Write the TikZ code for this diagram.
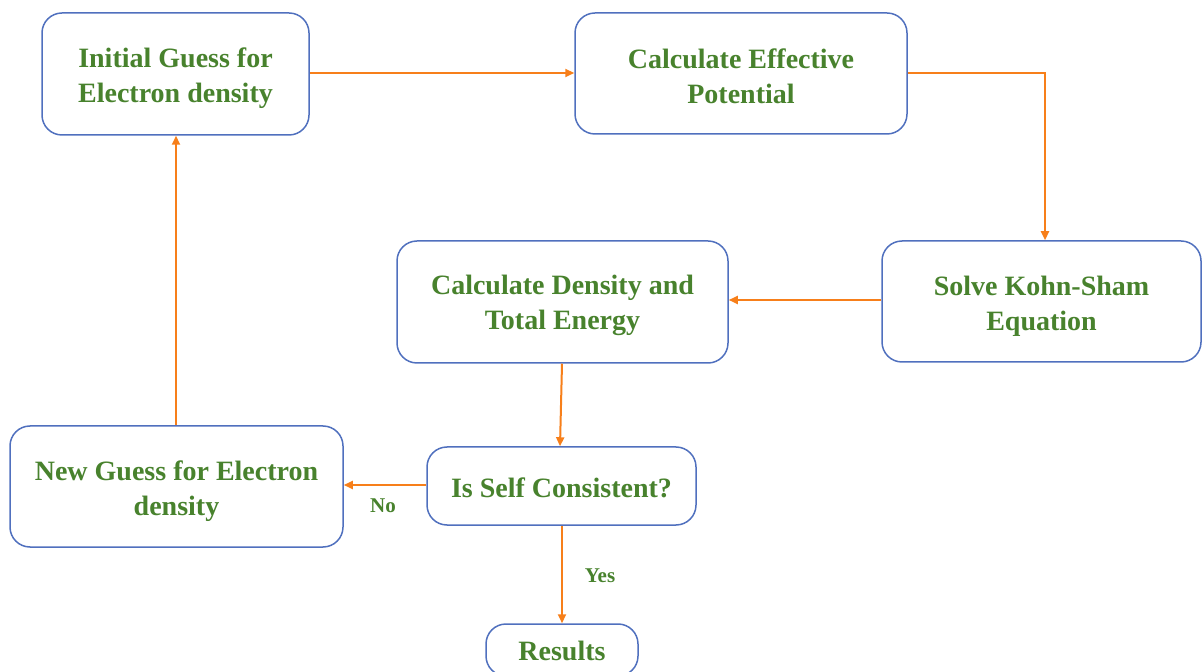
\documentclass[tikz,border=0pt]{standalone}
\usepackage{fontspec}
\setmainfont{Liberation Serif}
\usetikzlibrary{arrows.meta}
\definecolor{boxblue}{RGB}{80,112,190}
\definecolor{txtgreen}{RGB}{72,130,45}
\definecolor{arrorange}{RGB}{247,127,26}
\tikzset{
  flowbox/.style={draw=boxblue, line width=0.75pt, rounded corners=10pt, fill=white, inner sep=0pt},
  boxtext/.style={align=center, font=\fontsize{14}{17.5}\selectfont\bfseries, text=txtgreen, inner sep=0pt},
  flowarrow/.style={draw=arrorange, line width=1pt, -{Triangle[length=4.5pt,width=4pt]}},
  lbl/.style={font=\fontsize{10.5}{12}\selectfont\bfseries, text=txtgreen, inner sep=0pt}
}
\begin{document}
\begin{tikzpicture}[x=0.5pt,y=-0.5pt]
\useasboundingbox (0,0) rectangle (1202,672);
\node[flowbox, minimum width=133.5pt, minimum height=61pt,
  label={[boxtext, yshift=-2.3pt]center:{Initial Guess for\\Electron density}}] (init) at (175.5,74) {};
\node[flowbox, minimum width=166pt, minimum height=60.5pt,
  label={[boxtext, yshift=-1.2pt]center:{Calculate Effective\\Potential}}] (eff) at (741,73.5) {};
\node[flowbox, minimum width=159.5pt, minimum height=60.5pt,
  label={[boxtext, yshift=-2.3pt]center:{Solve Kohn-Sham\\Equation}}] (ks) at (1041.5,301.5) {};
\node[flowbox, minimum width=165.5pt, minimum height=61pt,
  label={[boxtext, yshift=-1.8pt]center:{Calculate Density and\\Total Energy}}] (dens) at (562.5,302) {};
\node[flowbox, minimum width=166.5pt, minimum height=60.5pt,
  label={[boxtext, yshift=-2.2pt]center:{New Guess for Electron\\density}}] (new) at (176.5,486.5) {};
\node[flowbox, minimum width=134.5pt, minimum height=39pt,
  label={[boxtext, yshift=-1pt]center:{Is Self Consistent?}}] (self) at (561.5,486) {};
\node[flowbox, minimum width=76pt, minimum height=26pt,
  label={[boxtext, yshift=-0.5pt]center:{Results}}] (res) at (562,650) {};
\coordinate (c1) at (1045,73.5);
\draw[flowarrow] (init.east |- 0,73) -- (eff.west |- 0,73);
\draw[flowarrow] (eff.east |- c1) -- (c1) -- (c1 |- ks.north);
\draw[flowarrow] (ks.west |- 0,300) -- (dens.east |- 0,300);
\draw[flowarrow] (dens.south -| 562,0) -- (self.north -| 560,0);
\draw[flowarrow] (self.west |- 0,485) -- (new.east |- 0,485);
\draw[flowarrow] (new.north -| 176,0) -- (init.south -| 176,0);
\draw[flowarrow] (self.south -| 562,0) -- (res.north -| 562,0);
\node[lbl] (no) at (383,506) {No};
\node[lbl] (yes) at (600,576) {Yes};
\end{tikzpicture}
\end{document}
